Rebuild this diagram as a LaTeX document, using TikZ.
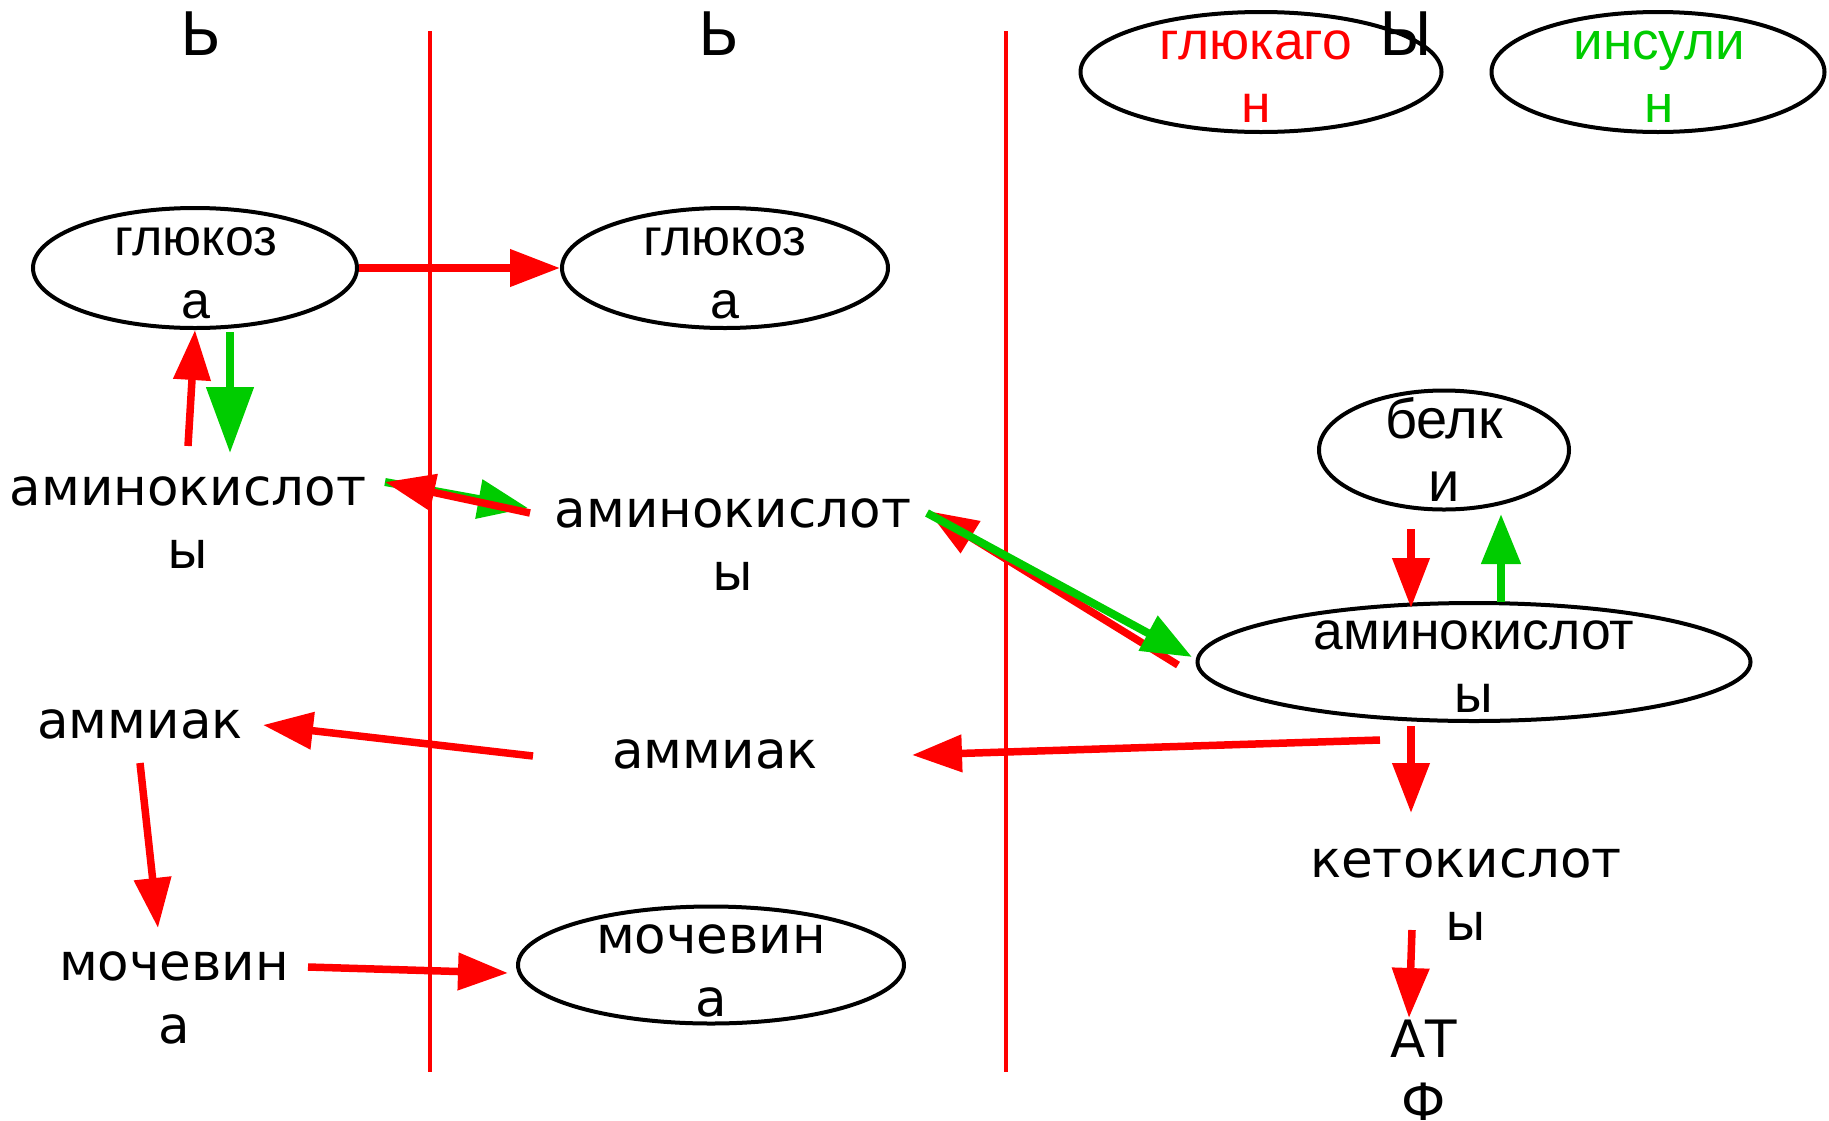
\documentclass[tikz,border=0pt]{standalone}
\usepackage{fontspec}
\usetikzlibrary{arrows.meta,shapes.geometric}
\newfontfamily\dvfont{DejaVu Sans}
\newfontfamily\lbfont{Liberation Sans}
\definecolor{rd}{RGB}{255,0,0}
\definecolor{gn}{RGB}{0,204,0}
\tikzset{
  oval/.style={draw=black, line width=4pt, ellipse, inner sep=0pt},
  lbl/.style={font=\dvfont\fontsize{51.5}{63}\selectfont, align=center, inner sep=0pt, anchor=base},
  olbl/.style={font=\lbfont\fontsize{#1}{63}\selectfont, align=center, inner sep=0pt, anchor=base},
  olbl/.default=53,
  toplbl/.style={font=\dvfont\fontsize{60}{70}\selectfont, inner sep=0pt, anchor=base},
  sepline/.style={draw=rd, line width=3.5pt},
  rarr/.style={draw=rd, line width=7.5pt, -{Triangle[length=50pt,width=36pt]}, rd},
  garr/.style={draw=gn, line width=8pt, -{Triangle[length=50pt,width=38pt]}, gn},
  bigg/.style={-{Triangle[length=66pt,width=46pt]}}
}
\begin{document}
\begin{tikzpicture}[x=1pt,y=-1pt]
\useasboundingbox (0,0) rectangle (1829,1120);
% separators
\coordinate (s1t) at (430,31); \coordinate (s1b) at (430,1072);
\coordinate (s2t) at (1006,31); \coordinate (s2b) at (1006,1072);
\draw[sepline] (s1t) -- (s1b);
\draw[sepline] (s2t) -- (s2b);

% ellipses
\node[oval, minimum width=324pt, minimum height=120pt] (g1) at (195,268) {};
\node[oval, minimum width=326pt, minimum height=120pt] (g2) at (725,268) {};
\node[oval, minimum width=361pt, minimum height=120pt] (glg) at (1261,72) {};
\node[oval, minimum width=333pt, minimum height=120pt] (ins) at (1658,72) {};
\node[oval, minimum width=250pt, minimum height=119pt] (bel) at (1444,450) {};
\node[oval, minimum width=553pt, minimum height=118pt] (am3) at (1474,662) {};
\node[oval, minimum width=386pt, minimum height=117pt] (mo2) at (711,965) {};

% ellipse texts (anchor = baseline of last line)
\node[olbl=52] (g1t) at (196,318) {глюкоз\\а};
\node[olbl=52] (g2t) at (725,318) {глюкоз\\а};
\node[olbl=53.5, text=rd] (glgt) at (1256,122) {глюкаго\\н};
\node[olbl=53, text=gn] (inst) at (1659,122) {инсули\\н};
\node[olbl=56] (belt) at (1444,501) {белк\\и};
\node[olbl=53.5] (am3t) at (1474,712) {аминокислот\\ы};
\node[lbl] (mo2t) at (711,1016) {мочевин\\а};

% top labels
\node[toplbl] (h1) at (201,55) {Ь};
\node[toplbl] (h2) at (719,55) {Ь};
\node[toplbl] (h3) at (1406,55) {Ы};

% free texts
\node[lbl] (am1) at (188,568) {аминокислот\\ы};
\node[lbl] (am2) at (733,590) {аминокислот\\ы};
\node[lbl] (amm1) at (140,738) {аммиак};
\node[lbl] (amm2) at (715,768) {аммиак};
\node[lbl] (mo1) at (174,1043) {мочевин\\а};
\node[lbl] (keto) at (1466,940) {кетокислот\\ы};
\node[lbl] (atf) at (1424,1120) {АТ\\Ф};

% arrow end points
\coordinate (pUp) at (188,446);
\coordinate (pDnA) at (230,332);
\coordinate (pDnB) at (230,453);
\coordinate (pL1) at (385,482);
\coordinate (pL2) at (528,508);
\coordinate (pL3) at (530,513);
\coordinate (pM1) at (1178,665);
\coordinate (pM2) at (928,511);
\coordinate (pM3) at (927,513);
\coordinate (pM4) at (1192,657);
\coordinate (pB1) at (1411,529);
\coordinate (pB2) at (1411,608);
\coordinate (pB3) at (1501,602);
\coordinate (pB4) at (1501,514);
\coordinate (pA1) at (1380,740);
\coordinate (pA2) at (912,755);
\coordinate (pK1) at (1411,726);
\coordinate (pK2) at (1411,813);
\coordinate (pT1) at (1412,930);
\coordinate (pT2) at (1409,1018);
\coordinate (pN1) at (533,756);
\coordinate (pN2) at (263,725);
\coordinate (pU1) at (140,763);
\coordinate (pU2) at (158,928);
\coordinate (pW1) at (308,967);
\coordinate (pW2) at (508,973);

% arrows
\draw[rarr] (g1.east) -- (g2.west);
\draw[rarr] (pUp) -- (g1.south);
\draw[garr, bigg] (pDnA) -- (pDnB);
\draw[garr] (pL1) -- (pL2);
\draw[rarr] (pL3) -- (pL1);
\draw[rarr] (pM1) -- (pM2);
\draw[garr] (pM3) -- (pM4);
\draw[rarr] (pB1) -- (pB2);
\draw[garr] (pB3) -- (pB4);
\draw[rarr] (pA1) -- (pA2);
\draw[rarr] (pK1) -- (pK2);
\draw[rarr] (pT1) -- (pT2);
\draw[rarr] (pN1) -- (pN2);
\draw[rarr] (pU1) -- (pU2);
\draw[rarr] (pW1) -- (pW2);
\end{tikzpicture}
\end{document}
